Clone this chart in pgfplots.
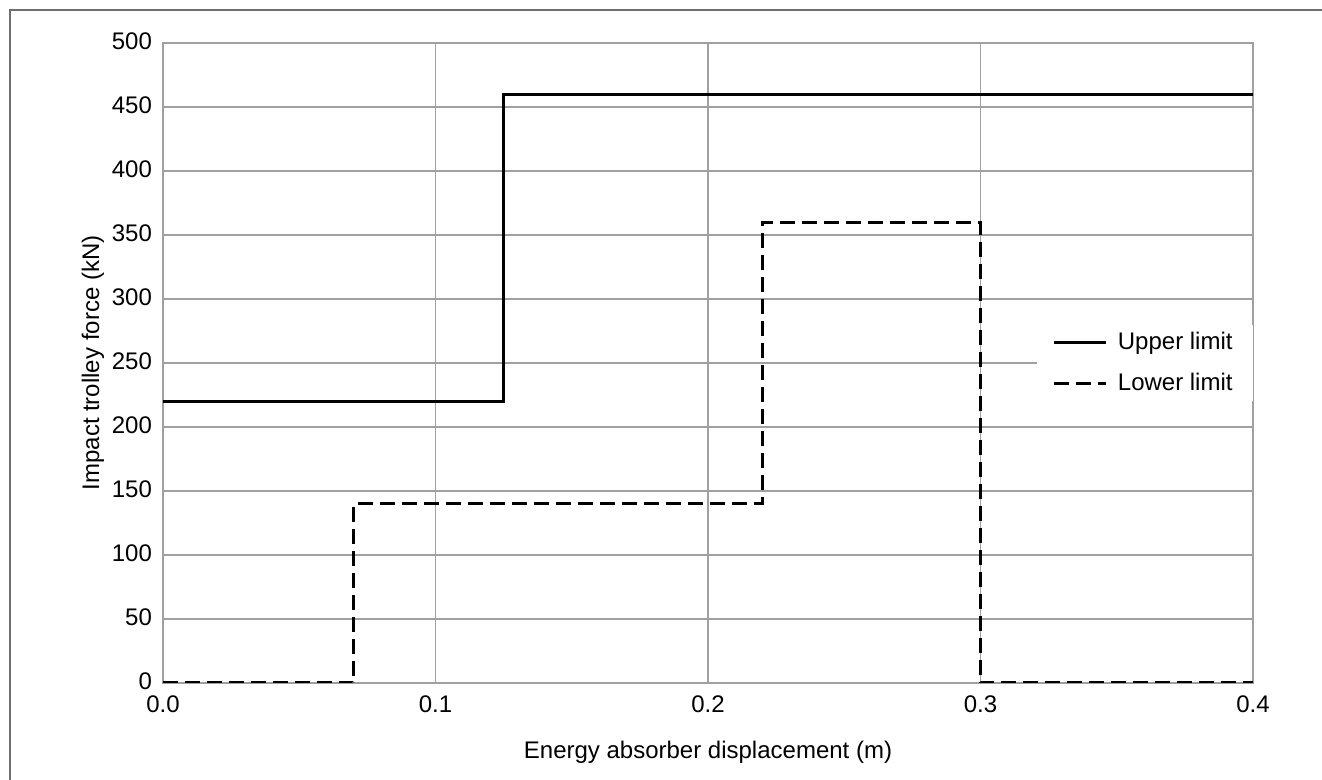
\documentclass[border=0pt]{standalone}
\usepackage{fontspec}
\setmainfont{Liberation Sans}
\usepackage{pgfplots}
\pgfplotsset{compat=1.18}
\definecolor{gridgray}{HTML}{A0A0A0}
\definecolor{framegray}{HTML}{6E6E6E}
\begin{document}
\begin{tikzpicture}
\path[use as bounding box] (0,0) rectangle (661pt,390pt);
\draw[framegray, line width=1pt] (5pt,0) -- (5pt,385pt) -- (661pt,385pt);
\begin{axis}[
    at={(81.5pt,48.5pt)}, anchor=south west,
    scale only axis,
    width=545pt, height=320pt,
    xmin=0, xmax=0.4, ymin=0, ymax=500,
    xtick={0,0.1,0.2,0.3,0.4},
    ytick={0,50,...,500},
    grid=major,
    major grid style={gridgray, line width=0.8pt},
    axis line style={gridgray, line width=0.8pt},
    major tick length=0pt,
    font=\fontsize{12}{14}\selectfont,
    /pgf/number format/assume math mode=true,
    xticklabel style={/pgf/number format/.cd, fixed, fixed zerofill, precision=1, /tikz/.cd, yshift=-3pt},
    yticklabel style={xshift=-2pt, yshift=1pt},
    xlabel={Energy absorber displacement (m)},
    ylabel={Impact trolley force (kN)},
    xlabel style={yshift=-7pt},
    ylabel style={yshift=-3pt},
    legend style={at={(rel axis cs:1,0.5)}, anchor=east, draw=none, fill=white,
        font=\fontsize{12}{14}\selectfont, row sep=6pt, column sep=3pt, inner xsep=8pt},
    legend cell align=left,
    legend image code/.code={\draw[#1] (0pt,0pt) -- (26pt,0pt);},
]
\addplot[black, line width=1.5pt] coordinates {
(0,220) (0.125,220) (0.125,460) (0.4,460)
};
\addlegendentry{Upper limit}
\addplot[black, line width=1.5pt, dash pattern=on 7.5pt off 3.5pt] coordinates {
(0,0) (0.07,0) (0.07,140) (0.22,140) (0.22,360) (0.3,360) (0.3,0) (0.4,0)
};
\addlegendentry{Lower limit}
\end{axis}
\end{tikzpicture}
\end{document}
